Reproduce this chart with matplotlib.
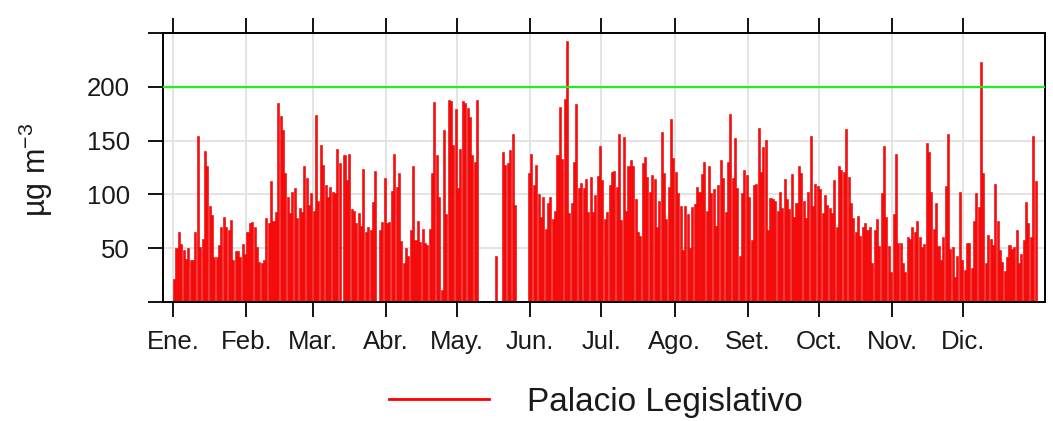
import numpy as np
import matplotlib.pyplot as plt
from matplotlib.lines import Line2D

plt.rcParams['font.family'] = ['Liberation Sans', 'DejaVu Sans']
plt.rcParams['mathtext.default'] = 'regular'

nan = np.nan

# promedios diarios por mes (µg/m3), NaN = sin dato
meses = ['Ene.', 'Feb.', 'Mar.', 'Abr.', 'May.', 'Jun.',
         'Jul.', 'Ago.', 'Set.', 'Oct.', 'Nov.', 'Dic.']
ene = [21, 50, 65, 54, 48, 40, 50, 39, 39, 65, 154, 51, 59, 140, 126, 89,
       81, 42, 42, 53, 70, 79, 70, 67, 76, 39, 47, 47, 42, 54, 45]
feb = [65, 73, 74, 70, 51, 37, 36, 39, 78, 73, 112, 75, 84, 185, 173, 160,
       120, 98, 83, 102, 106, 78, 87, 84, 126, 115, 90, 101]
mar = [85, 174, 94, 146, 127, 109, 98, 107, 102, 101, 142, 129, nan, 137,
       113, 138, 86, 85, 73, 83, 71, 124, 65, 70, 67, 93, 122, nan, 67, 74, 115]
abr = [73, 74, 103, 138, 107, 120, 57, 36, 50, 43, 67, 126, 58, 75, 56, 68,
       55, 53, 68, 120, 186, 137, 98, 11, 160, 82, 188, 187, 146, 179]
may = [106, 142, 187, 185, 180, 172, 137, 130, 188, nan, nan, nan, nan, nan,
       nan, nan, 43, nan, nan, 139, 127, 129, 141, 156, 90, nan, nan, nan,
       nan, nan, 120]
jun = [138, 109, 127, 100, 79, 98, 68, 92, 98, 77, 85, 137, 181, 133, 189,
       243, 83, 92, 130, 184, 106, 111, 106, 114, 84, 116, 84, 99, 117, 145]
jul = [113, 77, 84, 109, 121, 122, 107, 156, 76, 153, 85, 126, 132, 126, 96,
       65, 61, 129, 135, 116, 102, 118, 114, 70, 94, 158, 120, 77, 107, 170, 134]
ago = [121, 101, 89, 48, 89, 82, 50, 88, 91, 107, 102, 119, 130, 85, 126, 101,
       105, 71, 109, 132, 115, 84, 130, 175, 115, 152, 106, 43, 101, 123, 118]
sep = [98, 58, 109, 110, 162, 121, 144, 151, 67, 97, 96, 94, 85, 102, 87, 114,
       96, 86, 119, 79, 92, 126, 120, 94, 78, 102, 154, 89, 110, 108]
octu = [105, 83, 99, 90, 87, 83, 113, 70, 126, 123, 121, 161, 116, 92, 78, 65,
        80, 61, 70, 73, 67, 70, 36, 67, 77, 52, 101, 145, 79, 52, 28]
nov = [82, 138, 55, 55, 36, 28, 60, 59, 70, 65, 75, 60, 51, 54, 148, 139, 102,
       68, 92, 52, 39, 60, 108, 156, 49, 51, 23, 43, 102, 39]
dic = [30, 55, 55, 32, 75, 101, 88, 223, 120, 36, 62, 59, 53, 110, 75, 48, 37,
       29, 42, 53, 49, 51, 67, 36, 45, 58, 93, 73, 60, 154, 112]
limite = 200

por_mes = [ene, feb, mar, abr, may, jun, jul, ago, sep, octu, nov, dic]
valores = np.array(sum(por_mes, []), dtype=float)
dias = np.arange(len(valores))
inicio_mes = np.cumsum([0] + [len(m) for m in por_mes[:-1]]) - 0.5

fig = plt.figure(figsize=(10.53, 4.21), dpi=100)
ax = fig.add_axes([163 / 1053, 1 - 302 / 421, (1045 - 163) / 1053, (302 - 33) / 421])

ok = ~np.isnan(valores)
ax.bar(dias[ok], valores[ok], width=0.86, color='#ff0a0a',
       edgecolor='#e00000', linewidth=0.4, zorder=2)
ax.axhline(limite, color='#22ee22', lw=1.6, zorder=3)

ax.set_xlim(-4.7, 368.0)
ax.set_ylim(0, 250)
ax.set_xticks(inicio_mes)
ax.set_xticklabels(meses)
ax.set_yticks([0, 50, 100, 150, 200, 250])
ax.set_yticklabels(['', '50', '100', '150', '200', ''])

ax.grid(color='#e2e2e2', lw=1.3)
ax.set_axisbelow(True)
ax.tick_params(axis='both', direction='out', length=11, width=1.3,
               labelsize=18.5, colors='black', labelcolor='#1a1a1a')
ax.tick_params(axis='x', top=True, pad=9)
ax.tick_params(axis='y', pad=13)
for s in ax.spines.values():
    s.set_linewidth(1.4)

ax.set_ylabel('µg m$^{-3}$', fontsize=22, color='#1a1a1a')
ax.yaxis.set_label_coords(-0.122, 0.49)

linea = Line2D([], [], color='#ff0000', lw=2)
fig.legend(handles=[linea], labels=['Palacio Legislativo'], loc='center',
           bbox_to_anchor=(0.566, 0.045), frameon=False, fontsize=24,
           handlelength=3.0, handletextpad=1.15, labelcolor='#1a1a1a')

fig.savefig('out.png', dpi=100)
